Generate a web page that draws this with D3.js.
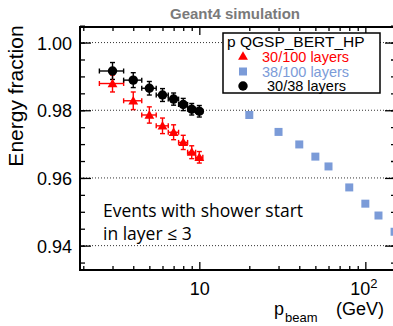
<!DOCTYPE html>
<html>
<head>
<meta charset="utf-8">
<script src="https://cdn.jsdelivr.net/npm/d3@7"></script>
<style>
  body { margin: 0; background: #fff; }
  svg { display: block; font-family: "Liberation Sans", Arial, sans-serif; }
</style>
</head>
<body>
<svg id="chart" width="393" height="326"></svg>
<script>
// data
const lowEnergies = [3, 4, 5, 6, 7, 8, 9, 10];
const lowEnergyErr = [0.5, 0.5, 0.5, 0.5, 0.5, 0.5, 0.5, 0.5];
const ratio30_38 = [0.9916, 0.9889, 0.9865, 0.9845, 0.9833, 0.9817, 0.9803, 0.9797];
const ratio30_38Err = [0.0025, 0.0022, 0.0020, 0.0019, 0.0018, 0.0018, 0.0017, 0.0017];
const ratio30_100 = [0.9879, 0.9828, 0.9786, 0.9754, 0.9735, 0.9705, 0.9676, 0.9661];
const ratio30_100Err = [0.0025, 0.0026, 0.0024, 0.0023, 0.0022, 0.0021, 0.0019, 0.0017];
const highEnergies = [20, 30, 40, 50, 60, 80, 100, 120, 150];
const ratio38_100 = [0.9786, 0.9736, 0.9699, 0.9663, 0.9634, 0.9572, 0.9524, 0.9489, 0.9441];

const yMajor = [0.94, 0.96, 0.98, 1.00];
const yMinor = d3.range(0.935, 1.0051, 0.005);
const xMajor = [10, 100];
const xMinor = [2, 3, 4, 5, 6, 7, 8, 9, 20, 30, 40, 50, 60, 70, 80, 90];

const legendItems = [
  { label: "30/100 layers", color: "#ff0000", tx: 262 },
  { label: "38/100 layers", color: "#7b9bd8", tx: 262 },
  { label: "30/38 layers", color: "#000000", tx: 267 }
];

const svg = d3.select("#chart");
const pLeft = 80, pTop = 27, pRight = 396, pBottom = 270;

const x = d3.scaleLog().domain([1.911, 153]).range([pLeft, pRight]);
const y = d3.scaleLinear().domain([0.9328, 1.0046]).range([pBottom, pTop]);

// title
svg.append("text")
  .attr("x", 235).attr("y", 18.5)
  .attr("text-anchor", "middle")
  .attr("font-size", 15).attr("font-weight", "bold")
  .attr("fill", "#7a7a7a")
  .text("Geant4 simulation");

// dotted grid lines
svg.append("g").selectAll("line")
  .data(yMajor)
  .join("line")
  .attr("x1", pLeft).attr("x2", pRight)
  .attr("y1", d => y(d)).attr("y2", d => y(d))
  .attr("stroke", "#333").attr("stroke-width", 1)
  .attr("stroke-dasharray", "1,2");

// axes (ticks inward)
function styleAxis(g) {
  g.select(".domain").remove();
  g.selectAll(".tick line").attr("stroke", "#000").attr("stroke-width", 1.3);
}
svg.append("g").attr("transform", `translate(0,${pBottom})`)
  .call(d3.axisBottom(x).tickValues(xMinor).tickSize(-4).tickFormat(""))
  .call(styleAxis);
svg.append("g").attr("transform", `translate(0,${pTop})`)
  .call(d3.axisTop(x).tickValues(xMinor).tickSize(-4).tickFormat(""))
  .call(styleAxis);
const xMajorAxis = svg.append("g").attr("transform", `translate(0,${pBottom})`)
  .call(d3.axisBottom(x).tickValues(xMajor).tickSize(-8).tickPadding(12).tickFormat(d => d === 100 ? "10" : d))
  .call(styleAxis);
xMajorAxis.selectAll("text").attr("font-size", 18).attr("fill", "#000")
  .attr("font-family", "Liberation Sans, Arial, sans-serif");
xMajorAxis.selectAll(".tick").filter(d => d === 100).select("text")
  .attr("dx", -2)
  .append("tspan").attr("dy", -7).attr("font-size", 13).text("2");
svg.append("g").attr("transform", `translate(0,${pTop})`)
  .call(d3.axisTop(x).tickValues(xMajor).tickSize(-8).tickFormat(""))
  .call(styleAxis);

svg.append("g").attr("transform", `translate(${pLeft},0)`)
  .call(d3.axisLeft(y).tickValues(yMinor).tickSize(-5).tickFormat(""))
  .call(styleAxis);
svg.append("g").attr("transform", `translate(${pRight},0)`)
  .call(d3.axisRight(y).tickValues(yMinor).tickSize(-5).tickFormat(""))
  .call(styleAxis);
const yMajorAxis = svg.append("g").attr("transform", `translate(${pLeft},0)`)
  .call(d3.axisLeft(y).tickValues(yMajor).tickSize(-11).tickPadding(8).tickFormat(d3.format(".2f")))
  .call(styleAxis);
yMajorAxis.selectAll("text").attr("font-size", 18).attr("fill", "#000")
  .attr("font-family", "Liberation Sans, Arial, sans-serif").attr("dy", "0.36em");
svg.append("g").attr("transform", `translate(${pRight},0)`)
  .call(d3.axisRight(y).tickValues(yMajor).tickSize(-11).tickFormat(""))
  .call(styleAxis);

// frame
svg.append("rect")
  .attr("x", pLeft).attr("y", pTop)
  .attr("width", pRight - pLeft).attr("height", pBottom - pTop)
  .attr("fill", "none").attr("stroke", "#000").attr("stroke-width", 2);

// axis titles
svg.append("text")
  .attr("transform", "translate(23,96) rotate(-90)")
  .attr("text-anchor", "middle")
  .attr("font-size", 21)
  .text("Energy fraction");

const xt = svg.append("text").attr("font-size", 18);
xt.append("tspan").attr("x", 274).attr("y", 315).text("p");
xt.append("tspan").attr("x", 285).attr("y", 322).attr("font-size", 13).text("beam");
xt.append("tspan").attr("x", 336).attr("y", 315).text("(GeV)");

// annotation
const note = svg.append("g").attr("font-family", "'Open Sans', 'DejaVu Sans', sans-serif").attr("font-size", 17.5);
note.append("text").attr("x", 103).attr("y", 217).text("Events with shower start");
note.append("text").attr("x", 103).attr("y", 240).text("in layer \u2264 3");

// error bars
function errorBars(xs, ys, xErr, yErr, color) {
  const g = svg.append("g").attr("stroke", color).attr("stroke-width", 1.4);
  const cap = 2.5;
  xs.forEach((e, i) => {
    const cx = x(e), cy = y(ys[i]);
    const x0 = x(e - xErr[i]), x1 = x(e + xErr[i]);
    const y0 = y(ys[i] - yErr[i]), y1 = y(ys[i] + yErr[i]);
    g.append("line").attr("x1", x0).attr("x2", x1).attr("y1", cy).attr("y2", cy);
    g.append("line").attr("x1", cx).attr("x2", cx).attr("y1", y0).attr("y2", y1);
    g.append("line").attr("x1", x0).attr("x2", x0).attr("y1", cy - cap).attr("y2", cy + cap);
    g.append("line").attr("x1", x1).attr("x2", x1).attr("y1", cy - cap).attr("y2", cy + cap);
    g.append("line").attr("x1", cx - cap).attr("x2", cx + cap).attr("y1", y0).attr("y2", y0);
    g.append("line").attr("x1", cx - cap).attr("x2", cx + cap).attr("y1", y1).attr("y2", y1);
  });
}
errorBars(lowEnergies, ratio30_100, lowEnergyErr, ratio30_100Err, "#ff0000");
errorBars(lowEnergies, ratio30_38, lowEnergyErr, ratio30_38Err, "#000000");

const tri = d3.symbol().type(d3.symbolTriangle).size(42);
const sq = d3.symbol().type(d3.symbolSquare).size(64);
const circ = d3.symbol().type(d3.symbolCircle).size(70);

svg.append("g").selectAll("path")
  .data(lowEnergies)
  .join("path")
  .attr("transform", (d, i) => `translate(${x(d)},${y(ratio30_100[i]) + 0.8})`)
  .attr("d", tri).attr("fill", "#ff0000");

svg.append("g").selectAll("path")
  .data(lowEnergies)
  .join("path")
  .attr("transform", (d, i) => `translate(${x(d)},${y(ratio30_38[i])})`)
  .attr("d", circ).attr("fill", "#000");

svg.append("g").selectAll("path")
  .data(highEnergies)
  .join("path")
  .attr("transform", (d, i) => `translate(${x(d)},${y(ratio38_100[i])})`)
  .attr("d", sq).attr("fill", "#7b9bd8");

// legend
const lg = svg.append("g");
lg.append("rect")
  .attr("x", 223).attr("y", 33).attr("width", 157).attr("height", 60)
  .attr("fill", "#fff").attr("stroke", "#000").attr("stroke-width", 1.5);
lg.append("text").attr("x", 227).attr("y", 47).attr("font-size", 15.5).text("p QGSP_BERT_HP");
const shapes = [tri, sq, circ];
legendItems.forEach((item, i) => {
  const cy = 57 + i * 14.5;
  lg.append("path")
    .attr("transform", `translate(243,${cy})`)
    .attr("d", shapes[i]).attr("fill", item.color);
  lg.append("text")
    .attr("x", item.tx).attr("y", cy + 5)
    .attr("font-size", 14.5).attr("fill", item.color)
    .text(item.label);
});
</script>
</body>
</html>
